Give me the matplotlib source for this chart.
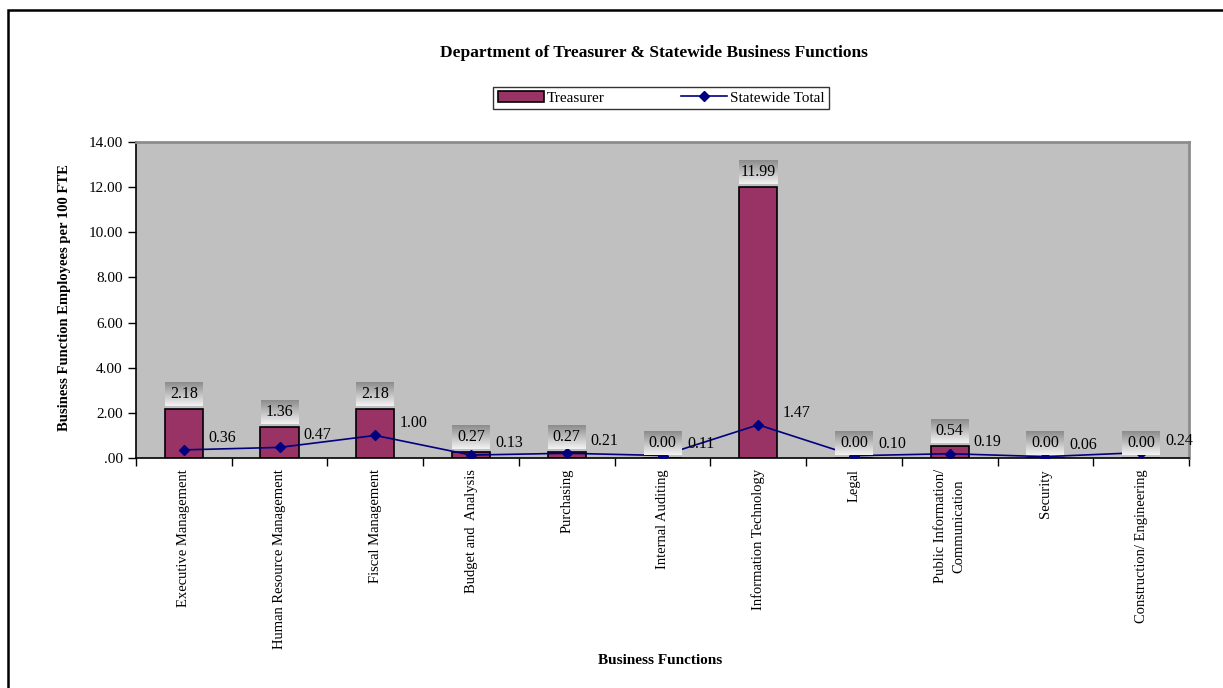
import numpy as np
import matplotlib
matplotlib.use("Agg")
import matplotlib.pyplot as plt
from matplotlib.patches import Rectangle
from matplotlib.lines import Line2D
from matplotlib.ticker import FuncFormatter

# data
categories = ["Executive Management", "Human Resource Management", "Fiscal Management",
              "Budget and  Analysis", "Purchasing", "Internal Auditing",
              "Information Technology", "Legal", "Public Information/\nCommunication",
              "Security", "Construction/ Engineering"]
treasurer = [2.18, 1.36, 2.18, 0.27, 0.27, 0.00, 11.99, 0.00, 0.54, 0.00, 0.00]
statewide = [0.36, 0.47, 1.00, 0.13, 0.21, 0.11, 1.47, 0.10, 0.19, 0.06, 0.24]

plt.rcParams['font.family'] = ['Liberation Serif', 'DejaVu Serif']

W, H = 1223, 688
fig = plt.figure(figsize=(W / 100, H / 100), dpi=100)
ax = fig.add_axes([136 / W, 1 - 458 / H, (1189 - 136) / W, (458 - 142) / H])
ax.set_facecolor('#c0c0c0')

x = np.arange(len(categories))
bars = ax.bar(x, treasurer, width=0.4, color='#993366', edgecolor='black', linewidth=1.2, zorder=2)
line, = ax.plot(x, statewide, color='#000080', lw=1.2, marker='D', ms=5, zorder=3)

ax.set_xlim(-0.5, len(categories) - 0.5)
ax.set_ylim(0, 14)
ax.set_autoscale_on(False)

# y axis
ax.set_yticks(np.arange(0, 14.01, 2))
ax.yaxis.set_major_formatter(FuncFormatter(lambda v, p: ("%.2f" % v).replace("0.", ".", 1) if v < 1 else "%.2f" % v))
ax.tick_params(axis='y', labelsize=11, length=6, width=1, direction='out')

# x axis: ticks between categories, labels at centres
ax.set_xticks(np.arange(-0.5, len(categories), 1))
ax.set_xticklabels([])
ax.set_xticks(x, minor=True)
ax.set_xticklabels(categories, minor=True, rotation=90, va='top', ha='center', fontsize=10.5,
                   linespacing=1.5)
ax.tick_params(axis='x', which='major', length=6, width=1, direction='out')
ax.tick_params(axis='x', which='minor', length=0, pad=8)

for s in ['top', 'right']:
    ax.spines[s].set_color('#8c8c8c')
    ax.spines[s].set_linewidth(2)
for s in ['left', 'bottom']:
    ax.spines[s].set_color('black')
    ax.spines[s].set_linewidth(1.2)

# bar value labels in gradient boxes
grad = np.linspace(0.55, 0.95, 40).reshape(-1, 1)
inv = ax.transData.inverted()
for i, v in enumerate(treasurer):
    px, py = ax.transData.transform((i, v))
    (x0, y0) = inv.transform((px - 19, py + 3))
    (x1, y1) = inv.transform((px + 19, py + 27))
    ax.imshow(grad, extent=(x0, x1, y0, y1), aspect='auto', cmap='gray',
              vmin=0, vmax=1, origin='upper', zorder=4, interpolation='bilinear')
    ax.text(i, (y0 + y1) / 2, "%.2f" % v, ha='center', va='center', fontsize=11.5, zorder=5)

# statewide value labels
for i, v in enumerate(statewide):
    ax.annotate("%.2f" % v, (i, v), xytext=(38, 12), textcoords='offset pixels',
                ha='center', va='center', fontsize=11.5, zorder=5)

ax.set_xlim(-0.5, len(categories) - 0.5)
ax.set_ylim(0, 14)

# legend
handles = [Rectangle((0, 0), 1, 1, facecolor='#993366', edgecolor='black', lw=1.2),
           Line2D([], [], color='#000080', lw=1.2, marker='D', ms=5)]
leg = fig.legend(handles, ['Treasurer', 'Statewide Total'], ncol=2, loc='center',
                 bbox_to_anchor=(661 / W, 1 - 98 / H), fontsize=11, frameon=True,
                 fancybox=False, edgecolor='black', handlelength=3, columnspacing=5,
                 handletextpad=0.2, borderpad=0.3, borderaxespad=0)
leg.get_frame().set_linewidth(1)

fig.text(654 / W, 1 - 53 / H, "Department of Treasurer & Statewide Business Functions",
         ha='center', va='center', fontsize=12.5, fontweight='bold')
fig.text(65 / W, 1 - 298 / H, "Business Function Employees per 100 FTE",
         rotation=90, ha='center', va='center', fontsize=10.5, fontweight='bold')
fig.text(660 / W, 1 - 661 / H, "Business Functions",
         ha='center', va='center', fontsize=11, fontweight='bold')

# outer chart border
fig.add_artist(Rectangle((8 / W, -0.1), 1.2, 1 - 10 / H + 0.1, transform=fig.transFigure,
                         fill=False, lw=1.8, edgecolor='black'))

fig.savefig("out.png", dpi=100)
